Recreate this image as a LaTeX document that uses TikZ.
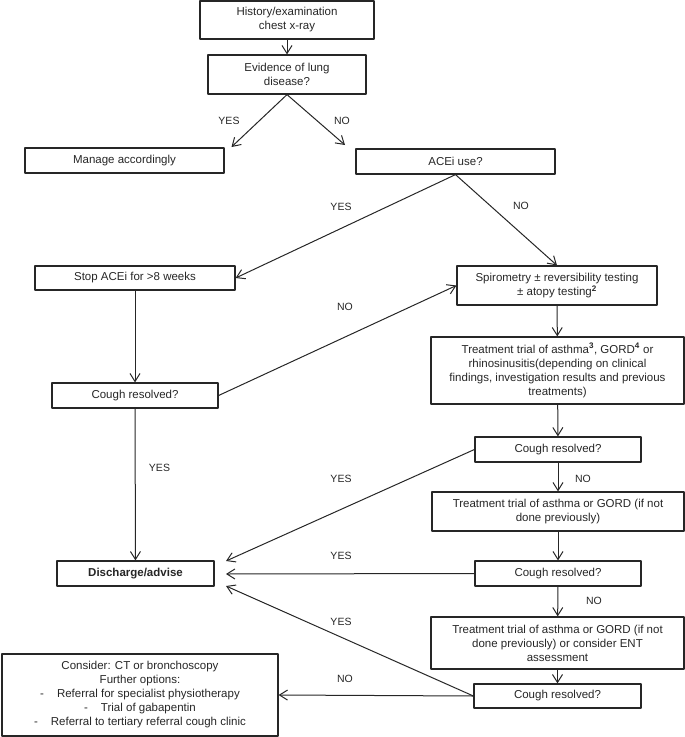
\documentclass[tikz,border=0pt]{standalone}
\usepackage{fontspec}
\setmainfont{Liberation Sans}
\usetikzlibrary{arrows.meta}

\begin{document}
\begin{tikzpicture}[x=1pt, y=-1pt, font=\fontsize{11.5}{14}\selectfont, line join=round, line cap=round,
	>={Straight Barb[length=8pt,width=10pt]},
	box/.style={draw=black!85, line width=1.2pt, align=center, inner sep=0pt, text=black!85},
	lbl/.style={font=\fontsize{10.5}{12}\selectfont, text=black!85},
	link/.style={->, draw=black!85, line width=1pt}]
	\useasboundingbox (0,0) rectangle (685,737);
	
	\node[box, minimum width=174pt, minimum height=38pt] (hist) at (287,20) {History/examination\\chest x-ray};
	\node[box, minimum width=158pt, minimum height=39pt] (lung) at (287,74.5) {Evidence of lung\\disease?};
	\node[box, minimum width=199pt, minimum height=25pt] (manage) at (124.5,160.5) {Manage accordingly};
	\node[box, minimum width=199pt, minimum height=25pt] (acei) at (455.5,161.5) {ACEi use?};
	\node[box, minimum width=200pt, minimum height=24pt] (stop) at (135,278) {Stop ACEi for >8 weeks};
	\node[box, minimum width=200pt, minimum height=39pt] (spiro) at (557,285.5) {Spirometry ± reversibility testing\\± atopy testing\textsuperscript{\textbf{2}}};
	\node[box, minimum width=253pt, minimum height=67pt] (trialA) at (557.5,370.5) {Treatment trial of asthma\textsuperscript{\textbf{3}}, GORD\textsuperscript{\textbf{4}} or\\rhinosinusitis(depending on clinical\\findings, investigation results and previous\\treatments)};
	\node[box, minimum width=166pt, minimum height=25pt] (coughL) at (135,395.5) {Cough resolved?};
	\node[box, minimum width=166pt, minimum height=25pt] (coughA) at (558,449.5) {Cough resolved?};
	\node[box, minimum width=252pt, minimum height=39pt] (trialB) at (558,511.5) {Treatment trial of asthma or GORD (if not\\done previously)};
	\node[box, minimum width=166pt, minimum height=25pt] (coughB) at (558,573.5) {Cough resolved?};
	\node[box, minimum width=157pt, minimum height=25pt] (discharge) at (135.5,573.5) {\textbf{Discharge/advise}};
	\node[box, minimum width=253pt, minimum height=52pt] (trialC) at (557.5,643) {Treatment trial of asthma or GORD (if not\\done previously) or consider ENT\\assessment};
	\node[box, minimum width=167pt, minimum height=24pt] (coughC) at (557.5,696) {Cough resolved?};
	\node[box, minimum width=276pt, minimum height=82pt] (consider) at (140,695) {Consider: CT or bronchoscopy\\Further options:\\-\hspace{13pt}Referral for specialist physiotherapy\\-\hspace{13pt}Trial of gabapentin\\-\hspace{13pt}Referral to tertiary referral cough clinic};
	
	\path 
	(231.5,147) coordinate (yesL)
	(345,145) coordinate (noR)
	(226,561) coordinate (back1)
	(226,574) coordinate (back2)
	(226,586) coordinate (back3)
	;
	
	\draw[link] (hist)--(lung);
	\draw[link] (lung.south)--(yesL);
	\draw[link] (lung.south)--(noR);
	\draw[link] (acei.south)--(stop.east);
	\draw[link] (acei.south)--(spiro.north);
	\draw[link] (stop)--(coughL);
	\draw[link] (coughL.east)--(spiro.west);
	\draw[link] (spiro)--(trialA);
	\draw[link] (trialA)--(coughA);
	\draw[link] (coughL)--(discharge);
	\draw[link] (coughA.west)--(back1);
	\draw[link] (coughA)--(trialB);
	\draw[link] (trialB)--(coughB);
	\draw[link] (coughB.west)--(back2);
	\draw[link] (coughB)--(trialC);
	\draw[link] (trialC)--(coughC);
	\draw[link] (coughC.west)--(back3);
	\draw[link] (coughC.west)--(consider.east);
	
	\foreach \x/\y/\t in {229/121/YES, 342/121/NO, 341/207/YES, 521/206/NO, 345/307/NO,
		159.5/468/YES, 341/479/YES, 583/479/NO, 341/556/YES, 594/601/NO, 341/622/YES, 345/679/NO}
	\node[lbl] (l\x-\y) at (\x,\y) {\t};
\end{tikzpicture}
\end{document}
